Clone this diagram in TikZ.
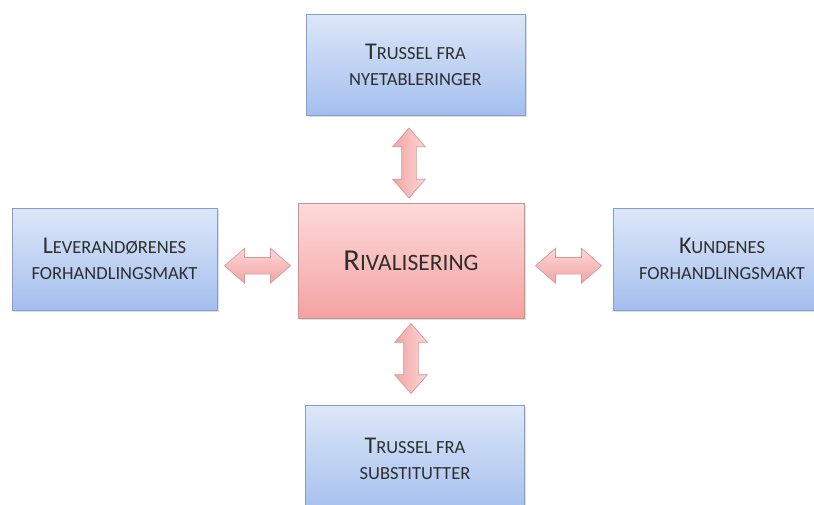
\documentclass[tikz,border=0pt]{standalone}
\usepackage{fontspec}
\setmainfont{Carlito}
\usetikzlibrary{shapes.arrows,shadows,calc}

\definecolor{boxtop}{HTML}{DDE7F8}
\definecolor{boxbot}{HTML}{A4BFEE}
\definecolor{boxedge}{HTML}{849FCF}
\definecolor{rivtop}{HTML}{FDDADA}
\definecolor{rivbot}{HTML}{F5A2A2}
\definecolor{rivedge}{HTML}{C79493}
\definecolor{arrtop}{HTML}{FCD6D6}
\definecolor{arrbot}{HTML}{F3A5A5}
\definecolor{arredge}{HTML}{D69A99}
\definecolor{txt}{HTML}{2E2E2E}

% fake small caps: first letter larger
\newcommand{\kap}[3][24]{{\fontsize{#1}{26}\selectfont #2}#3}

\tikzset{
  force/.style={draw=boxedge, line width=0.8pt, top color=boxtop, bottom color=boxbot,
    minimum width=219pt, minimum height=101pt, align=center, text=txt,
    font=\fontsize{18.5}{26}\selectfont,
    drop shadow={shadow xshift=1.5pt, shadow yshift=-1.5pt, opacity=0.25}},
  rival/.style={force, draw=rivedge, top color=rivtop, bottom color=rivbot,
    minimum width=226pt, minimum height=115pt, font=\fontsize{23.5}{26}\selectfont},
  dblarrow/.style={double arrow, draw=arredge, line width=0.7pt,
    top color=arrtop, bottom color=arrbot, inner sep=0pt, inner ysep=8pt,
    minimum width=1pt, minimum height=66pt,
    double arrow head extend=9pt, double arrow tip angle=82},
  vdblarrow/.style={dblarrow, rotate=90, minimum height=70pt, inner ysep=7pt,
    left color=arrbot, right color=arrtop}
}

\begin{document}
\begin{tikzpicture}[x=1pt,y=-1pt]
    \useasboundingbox (0,0) rectangle (814,504);

    % boxes
    \node[rival] (rival) at (411,260.5) {\kap[30.5]{R}{IVALISERING}};
    \node[force] (entry) at (415.5,64.5) {\kap{T}{RUSSEL FRA}\\NYETABLERINGER};
    \node[force, minimum height=108pt] (subst) at (415,459) {\kap{T}{RUSSEL FRA}\\SUBSTITUTTER};
    \node[force, minimum width=205pt, minimum height=102pt] (supplier) at (114.5,259)
        {\kap{L}{EVERANDØRENES}\\FORHANDLINGSMAKT};
    \node[force, minimum width=218pt, minimum height=102pt] (buyer) at (722,259)
        {\kap{K}{UNDENES}\\FORHANDLINGSMAKT};

    % arrows
    \node[dblarrow] (a-supplier) at ($(supplier.east)!0.5!(rival.west)+(0,6)$) {};
    \node[dblarrow] (a-buyer) at ($(rival.east)!0.5!(buyer.west)+(0,6)$) {};
    \node[vdblarrow] (a-entry) at ($(rival.north)!0.5!(rival.north |- entry.south)+(-2,4)$) {};
    \node[vdblarrow] (a-subst) at ($(rival.south)!0.5!(rival.south |- subst.north)+(0,-3)$) {};
\end{tikzpicture}
\end{document}
